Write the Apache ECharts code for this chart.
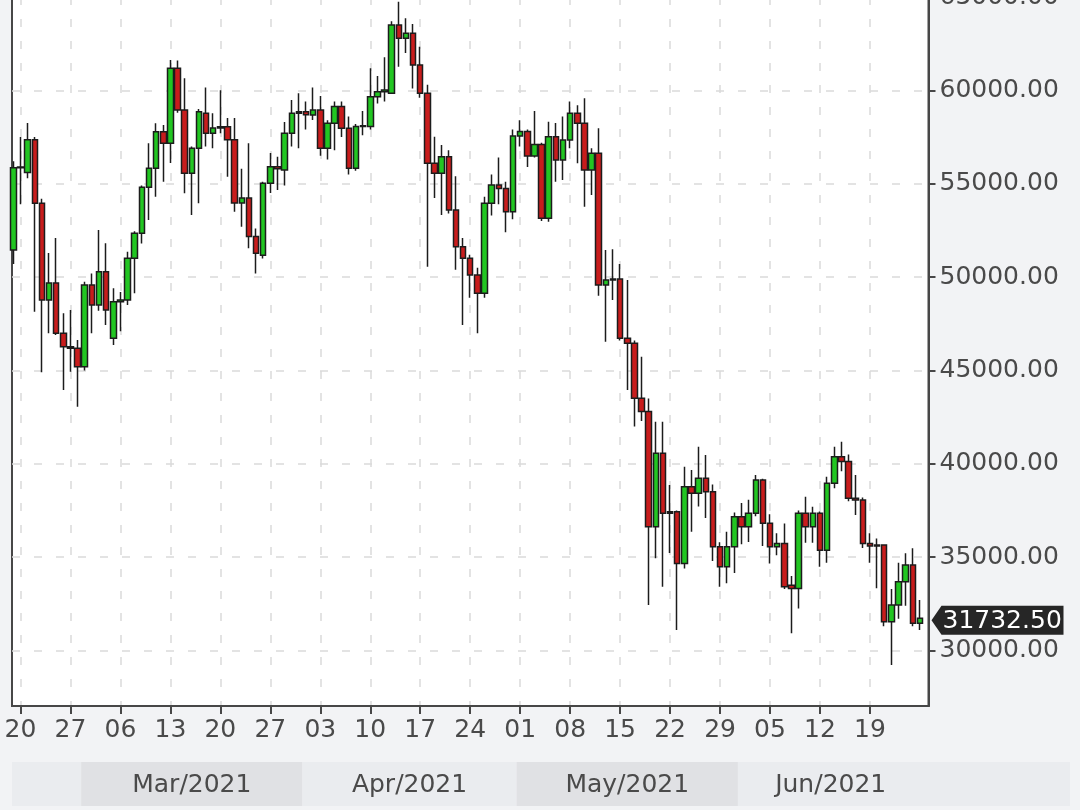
<!DOCTYPE html>
<html>
<head>
<meta charset="utf-8">
<title>BTC daily candles</title>
<script src="https://cdn.jsdelivr.net/npm/echarts@6/dist/echarts.min.js"></script>
<style>
  html, body { margin: 0; padding: 0; background: #f2f3f5; }
  #chart { width: 1080px; height: 810px; }
</style>
</head>
<body>
<div id="chart"></div>
<script>
// daily candles, 19 Feb - 26 Jun 2021
const dates = [
  '2021-02-19','2021-02-20','2021-02-21','2021-02-22','2021-02-23','2021-02-24','2021-02-25','2021-02-26','2021-02-27','2021-02-28',
  '2021-03-01','2021-03-02','2021-03-03','2021-03-04','2021-03-05','2021-03-06','2021-03-07','2021-03-08','2021-03-09','2021-03-10',
  '2021-03-11','2021-03-12','2021-03-13','2021-03-14','2021-03-15','2021-03-16','2021-03-17','2021-03-18','2021-03-19','2021-03-20',
  '2021-03-21','2021-03-22','2021-03-23','2021-03-24','2021-03-25','2021-03-26','2021-03-27','2021-03-28','2021-03-29','2021-03-30','2021-03-31',
  '2021-04-01','2021-04-02','2021-04-03','2021-04-04','2021-04-05','2021-04-06','2021-04-07','2021-04-08','2021-04-09','2021-04-10',
  '2021-04-11','2021-04-12','2021-04-13','2021-04-14','2021-04-15','2021-04-16','2021-04-17','2021-04-18','2021-04-19','2021-04-20',
  '2021-04-21','2021-04-22','2021-04-23','2021-04-24','2021-04-25','2021-04-26','2021-04-27','2021-04-28','2021-04-29','2021-04-30',
  '2021-05-01','2021-05-02','2021-05-03','2021-05-04','2021-05-05','2021-05-06','2021-05-07','2021-05-08','2021-05-09','2021-05-10',
  '2021-05-11','2021-05-12','2021-05-13','2021-05-14','2021-05-15','2021-05-16','2021-05-17','2021-05-18','2021-05-19','2021-05-20',
  '2021-05-21','2021-05-22','2021-05-23','2021-05-24','2021-05-25','2021-05-26','2021-05-27','2021-05-28','2021-05-29','2021-05-30','2021-05-31',
  '2021-06-01','2021-06-02','2021-06-03','2021-06-04','2021-06-05','2021-06-06','2021-06-07','2021-06-08','2021-06-09','2021-06-10',
  '2021-06-11','2021-06-12','2021-06-13','2021-06-14','2021-06-15','2021-06-16','2021-06-17','2021-06-18','2021-06-19','2021-06-20',
  '2021-06-21','2021-06-22','2021-06-23','2021-06-24','2021-06-25','2021-06-26'
];
const opens = [
  51450, 55850, 55600, 57350, 53950, 48770, 49680, 46990, 46270, 46190,
  45200, 49580, 48510, 50290, 46720, 48680, 48770, 51010, 52350, 54810,
  55830, 57790, 57170, 61180, 58950, 55560, 56900, 58770, 57700, 57990,
  58050, 57350, 53970, 54230, 52170, 51170, 55020, 55910, 55740, 57700, 58770,
  58850, 58680, 58950, 56900, 58240, 59130, 57970, 55830, 58060, 58060,
  59660, 59930, 59850, 63500, 62790, 63060, 61360, 59850, 56100, 55560,
  56450, 53600, 51630, 51010, 50110, 49130, 53950, 54930, 54750, 53500,
  57550, 57800, 56480, 57100, 53150, 57520, 56270, 57340, 58770, 58240,
  55740, 56630, 49580, 49850, 49900, 46720, 46460, 43510, 42800, 36630,
  40570, 37350, 37430, 34670, 38780, 38420, 39230, 38510, 35560, 34490, 35560,
  37170, 36630, 37350, 39140, 36820, 35560, 35740, 33500, 33330, 37350,
  36630, 37350, 35380, 38960, 40380, 40120, 38160, 38070, 35740, 35600,
  35650, 31550, 32440, 33690, 34580, 31460
];
const highs = [
  56200, 57500, 58250, 57500, 54200, 51290, 52090, 48060, 48240, 46630,
  49750, 50200, 52520, 51810, 49400, 49200, 51360, 52450, 54900, 57170,
  58240, 58150, 61630, 61600, 60650, 57000, 59000, 60160, 58770, 60000,
  58520, 58520, 55800, 57170, 52600, 55100, 56640, 56450, 58300, 59480, 59850,
  59400, 60160, 59700, 58400, 59400, 59400, 58600, 58200, 58900, 61180,
  60770, 61780, 63700, 64750, 63860, 63550, 62340, 60300, 57520, 57070,
  56800, 55400, 52090, 51200, 50500, 54300, 55500, 56400, 55100, 57900,
  58400, 57900, 58900, 57200, 58320, 58250, 58600, 59400, 59200, 59580,
  56900, 57970, 51450, 51490, 50700, 49840, 46600, 45740, 43500, 42260,
  42260, 38870, 37500, 39850, 39670, 40920, 40470, 38900, 35800, 36370, 37400,
  37900, 38080, 39400, 39200, 37300, 36280, 36800, 34000, 37500, 38240,
  37700, 37450, 39310, 40920, 41190, 40500, 39400, 38200, 36280, 36000,
  35700, 33300, 34700, 35210, 35480, 32710
];
const lows = [
  50700, 53900, 55300, 48150, 44900, 47000, 46900, 43960, 44930, 43060,
  45000, 46990, 48200, 47440, 46360, 47100, 48500, 49130, 51800, 53060,
  54310, 55110, 56110, 58800, 54490, 53330, 53950, 56990, 56900, 57700,
  55380, 53500, 52700, 51550, 50200, 51000, 54500, 54670, 54900, 57000, 56900,
  57900, 58410, 56500, 56300, 56800, 57500, 55500, 55700, 57600, 57900,
  59300, 59400, 59800, 61270, 62000, 60100, 59600, 50560, 54230, 53330,
  53400, 50400, 47430, 48900, 47000, 48900, 53300, 53900, 52400, 53100,
  57000, 55900, 56400, 53000, 52970, 55110, 55200, 56900, 56100, 53770,
  54400, 49000, 46540, 48780, 46600, 43950, 42000, 42300, 32440, 34940,
  33420, 35220, 31100, 34400, 36370, 37710, 37100, 34800, 33420, 33600, 34150,
  35700, 35820, 37200, 35600, 34670, 35100, 33300, 30930, 32260, 35780,
  35780, 34490, 34700, 38700, 39600, 38000, 37260, 35500, 34700, 33340,
  31300, 29230, 31700, 32400, 31300, 31100
];
const closes = [
  55850, 55900, 57350, 53950, 48770, 49680, 47000, 46270, 46190, 45200,
  49580, 48510, 50290, 48240, 48680, 48770, 51010, 52350, 54810, 55830,
  57790, 57170, 61180, 58950, 55560, 56900, 58860, 57700, 57990, 58050,
  57350, 53970, 54230, 52170, 51280, 55020, 55910, 55800, 57700, 58770, 58850,
  58700, 58950, 56900, 58240, 59130, 57970, 55830, 58060, 58100, 59660,
  59930, 60020, 63500, 62790, 63060, 61360, 59850, 56100, 55560, 56450,
  53600, 51630, 51010, 50110, 49130, 53950, 54930, 54750, 53500, 57550,
  57800, 56480, 57100, 53150, 57520, 56270, 57340, 58770, 58240, 55740,
  56630, 49580, 49850, 49900, 46720, 46460, 43510, 42800, 36630, 40570,
  37350, 37430, 34670, 38780, 38420, 39230, 38510, 35560, 34490, 35560, 37170,
  36630, 37350, 39140, 36820, 35560, 35740, 33420, 33330, 37350, 36630,
  37350, 35380, 38960, 40380, 40120, 38160, 38070, 35740, 35600, 35650,
  31550, 32440, 33690, 34580, 31460, 31732.5
];

// axis ticks and the month strip
const xTickDates = [
  '2021-02-20','2021-02-27','2021-03-06','2021-03-13','2021-03-20','2021-03-27',
  '2021-04-03','2021-04-10','2021-04-17','2021-04-24','2021-05-01','2021-05-08',
  '2021-05-15','2021-05-22','2021-05-29','2021-06-05','2021-06-12','2021-06-19'
];
const yTicks = [30000, 35000, 40000, 45000, 50000, 55000, 60000, 65000];
const monthStarts = ['2021-02-01','2021-03-01','2021-04-01','2021-05-01','2021-06-01'];
const monthLabels = ['Feb/2021','Mar/2021','Apr/2021','May/2021','Jun/2021'];

const DAY = 86400000;
const origin = Date.UTC(2021, 1, 20);
function dayIndex(s) { return (Date.parse(s) - origin) / DAY; }

// visible window, in days from 20 Feb
const xMin = -1.19, xMax = 127.2;
const plotLeft = 12, plotRight = 928.5, stripRight = 1070;
const stripMax = xMin + (stripRight - plotLeft) / (plotRight - plotLeft) * (xMax - xMin);

const FONT = 'DejaVu Sans';
const TXT = '#4a4a4a';
const AXIS = '#474747';

const candles = dates.map((d, i) => [dayIndex(d), opens[i], closes[i], lows[i], highs[i]]);
const tickDays = xTickDates.map(dayIndex);
const firstDay = dayIndex(dates[0]), lastDay = dayIndex(dates[dates.length - 1]);
// each month runs to the next month's start; the last one runs to the end of the strip
const bands = monthLabels.map((m, i) => [
  dayIndex(monthStarts[i]) - 0.5,
  i + 1 < monthStarts.length ? dayIndex(monthStarts[i + 1]) - 0.5 : stripMax,
  i
]);

const chart = echarts.init(document.getElementById('chart'));

const option = {
  backgroundColor: '#f2f3f5',
  animation: false,
  grid: [
    {
      left: plotLeft, right: 1080 - plotRight, top: -3, bottom: 104,
      outerBoundsMode: 'none', containLabel: false,
      show: true, backgroundColor: '#ffffff', borderColor: AXIS, borderWidth: 2
    },
    {
      left: plotLeft, right: 1080 - stripRight, top: 762, height: 44,
      outerBoundsMode: 'none', containLabel: false
    }
  ],
  xAxis: [
    {
      type: 'value', gridIndex: 0, min: xMin, max: xMax,
      axisLine: { show: true, onZero: false, lineStyle: { color: AXIS, width: 2 } },
      axisTick: {
        show: true, length: 8, customValues: tickDays,
        lineStyle: { color: AXIS, width: 2 }
      },
      axisLabel: {
        customValues: tickDays, margin: 12,
        color: TXT, fontFamily: FONT, fontSize: 25,
        formatter: function (v) {
          const d = new Date(origin + Math.round(v) * DAY).getUTCDate();
          return (d < 10 ? '0' : '') + d;
        }
      },
      splitLine: { show: true, lineStyle: { color: '#dadada', width: 1.5, type: [8, 14] } }
    },
    { type: 'value', gridIndex: 1, min: xMin, max: stripMax, show: false }
  ],
  yAxis: [
    {
      type: 'value', gridIndex: 0, position: 'right', min: 27033, max: 65000,
      axisLine: { show: true, onZero: false, lineStyle: { color: AXIS, width: 2 } },
      axisTick: { show: true, length: 7, customValues: yTicks, lineStyle: { color: AXIS, width: 2 } },
      axisLabel: {
        customValues: yTicks, margin: 11,
        color: TXT, fontFamily: FONT, fontSize: 25,
        formatter: function (v) { return v.toFixed(2); }
      },
      splitLine: { show: true, lineStyle: { color: '#dadada', width: 1.5, type: [8, 14] } }
    },
    { type: 'value', gridIndex: 1, min: 0, max: 1, show: false }
  ],
  series: [
    {
      type: 'custom', xAxisIndex: 1, yAxisIndex: 1, silent: true,
      data: bands,
      renderItem: function (params, api) {
        const s = api.value(0), e = api.value(1), i = api.value(2);
        const cs = params.coordSys;
        const x0 = Math.max(api.coord([s, 0])[0], cs.x);
        const x1 = Math.min(api.coord([e, 0])[0], cs.x + cs.width);
        if (x1 <= x0) return;
        const kids = [{
          type: 'rect',
          shape: { x: x0, y: cs.y, width: x1 - x0, height: cs.height },
          style: { fill: i % 2 ? '#e0e1e4' : '#eaecef' }
        }];
        // month name centred on the part of the month that holds candles
        const a = Math.max(s, firstDay - 0.5), b = Math.min(e, lastDay + 0.5);
        if (b - a > 14) {
          kids.push({
            type: 'text',
            x: api.coord([(a + b) / 2, 0])[0], y: cs.y + cs.height / 2 + 1,
            style: {
              text: monthLabels[i], fill: TXT,
              font: '25px "' + FONT + '"', align: 'center', verticalAlign: 'middle'
            }
          });
        }
        return { type: 'group', children: kids };
      }
    },
    {
      type: 'candlestick', xAxisIndex: 0, yAxisIndex: 0,
      dimensions: ['day', 'open', 'close', 'lowest', 'highest'],
      encode: { x: 0, y: [1, 2, 3, 4] },
      data: candles,
      barWidth: 6,
      clip: true,
      itemStyle: {
        color: '#22c622', color0: '#c81c1c',
        borderColor: '#1c1c1c', borderColor0: '#1c1c1c', borderWidth: 1.5
      }
    }
  ]
};

chart.setOption(option);

// last-price tag on the price axis
const last = closes[closes.length - 1];
const py = chart.convertToPixel({ yAxisIndex: 0 }, last) + 2;
const px = chart.convertToPixel({ xAxisIndex: 0 }, xMax);
chart.setOption({
  graphic: [{
    type: 'group',
    children: [
      {
        type: 'polygon',
        shape: { points: [[px + 3, py], [px + 13, py - 14.5], [px + 135, py - 14.5], [px + 135, py + 14.5], [px + 13, py + 14.5]] },
        style: { fill: '#262626' }
      },
      {
        type: 'text', x: px + 14, y: py + 1,
        style: { text: last.toFixed(2), fill: '#ffffff', font: '25px "' + FONT + '"', verticalAlign: 'middle' }
      }
    ]
  }]
});
</script>
</body>
</html>
